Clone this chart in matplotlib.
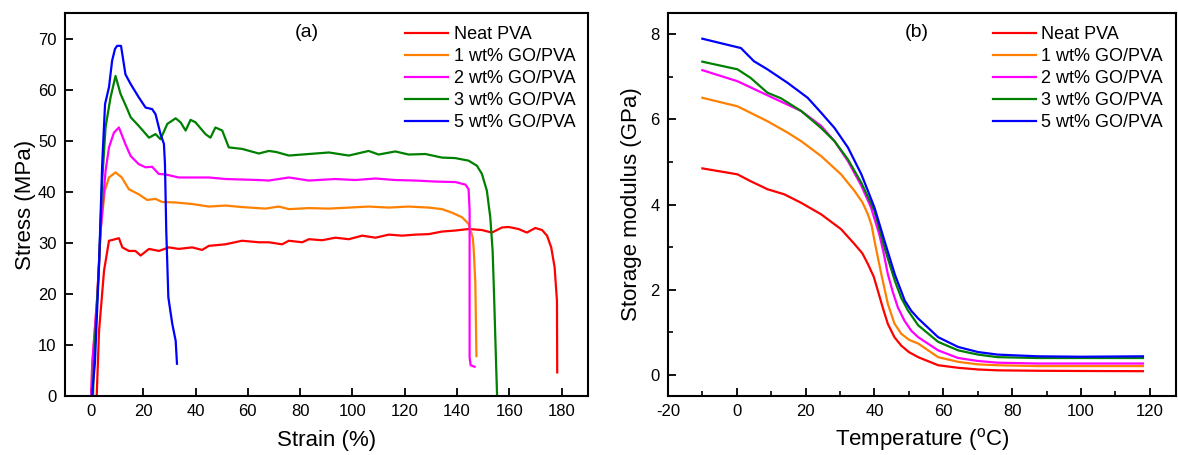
import matplotlib
matplotlib.use("Agg")
import matplotlib.pyplot as plt
from matplotlib.ticker import MultipleLocator

plt.rcParams['font.family'] = ['Liberation Sans', 'DejaVu Sans']
plt.rcParams['axes.unicode_minus'] = False

labels = ["Neat PVA", "1 wt% GO/PVA", "2 wt% GO/PVA", "3 wt% GO/PVA", "5 wt% GO/PVA"]
colors = ["#FF0000", "#FF8000", "#FF00FF", "#008000", "#0000FF"]

# ---- Panel (a): stress-strain ----
strain_neat = [2.2, 3.1, 5.0, 6.9, 8.5, 10.7, 12.0, 14.5, 17.0, 19.0, 22.2, 26.0, 29.8, 33.6, 38.7, 42.5,
               45.1, 51.4, 57.8, 64.2, 68.0, 73.1, 75.7, 80.8, 83.3, 88.4, 93.5, 98.6, 103.7, 108.8,
               113.9, 119.0, 124.1, 129.2, 134.2, 139.3, 144.4, 149.5, 153.3, 157.2, 159.7, 163.5,
               166.7, 169.9, 172.5, 174.4, 176.0, 177.3, 178.2, 178.3]
stress_neat = [0.0, 12.7, 24.5, 30.4, 30.6, 30.9, 29.1, 28.4, 28.4, 27.5, 28.8, 28.4, 29.1, 28.8, 29.1, 28.6,
               29.4, 29.7, 30.4, 30.1, 30.1, 29.7, 30.4, 30.1, 30.7, 30.5, 31.0, 30.7, 31.4, 31.0,
               31.6, 31.4, 31.6, 31.7, 32.2, 32.4, 32.7, 32.5, 32.0, 33.0, 33.1, 32.7,
               32.0, 32.9, 32.5, 31.4, 29.1, 25.2, 18.6, 4.6]

strain_1 = [0.1, 0.5, 2.4, 3.7, 5.3, 6.9, 9.4, 11.8, 14.5, 18.3, 21.5, 24.7, 27.2, 32.4, 38.7, 45.1,
            51.4, 57.8, 66.7, 71.8, 75.7, 83.3, 91.0, 98.6, 106.2, 113.9, 121.5, 129.2, 134.2, 138.1,
            141.9, 144.4, 146.0, 146.4, 147.0, 147.4]
stress_1 = [0.0, 6.3, 19.3, 32.4, 40.2, 42.8, 43.8, 42.8, 40.5, 39.5, 38.4, 38.6, 38.0, 37.9, 37.6, 37.1,
            37.3, 37.0, 36.7, 37.1, 36.6, 36.8, 36.7, 36.9, 37.1, 36.9, 37.1, 36.9, 36.6, 35.9,
            35.0, 33.7, 31.0, 28.4, 21.9, 7.8]

strain_2 = [0.1, 0.5, 2.4, 3.7, 5.6, 6.9, 8.8, 10.7, 13.2, 15.2, 18.3, 20.9, 23.4, 25.9, 28.5, 33.6,
            38.7, 45.1, 51.4, 57.8, 64.2, 68.0, 75.7, 83.3, 93.5, 101.1, 108.8, 116.4, 124.1, 131.7,
            139.4, 143.2, 144.4, 144.8, 144.8, 145.2, 146.7]
stress_2 = [0.0, 6.3, 19.3, 32.4, 44.1, 48.7, 51.6, 52.6, 49.3, 47.0, 45.4, 44.8, 44.9, 43.5, 43.4, 42.8,
            42.8, 42.8, 42.5, 42.4, 42.3, 42.2, 42.8, 42.2, 42.5, 42.3, 42.6, 42.3, 42.2, 42.0,
            41.9, 41.4, 40.5, 36.3, 7.5, 6.0, 5.7]

strain_3 = [0.8, 1.1, 3.1, 4.3, 5.6, 7.5, 9.4, 11.3, 13.9, 15.2, 18.3, 22.2, 24.7, 26.6, 29.2, 32.4,
            34.3, 36.2, 38.1, 40.0, 43.8, 45.7, 47.6, 50.2, 52.7, 57.8, 64.2, 68.0, 70.8, 75.7,
            83.3, 91.0, 98.6, 106.2, 110.0, 116.4, 121.5, 127.9, 134.2, 139.3, 144.4, 147.6, 149.5,
            151.4, 152.7, 153.6, 154.1, 155.0, 155.3]
stress_3 = [0.0, 6.3, 25.8, 42.2, 52.7, 58.5, 62.7, 59.2, 56.2, 54.6, 52.9, 50.6, 51.3, 50.3, 53.3, 54.4,
            53.6, 52.0, 54.1, 53.6, 51.3, 50.6, 52.6, 52.0, 48.7, 48.4, 47.5, 48.0, 47.8, 47.1,
            47.4, 47.7, 47.1, 48.0, 47.3, 47.9, 47.3, 47.4, 46.7, 46.6, 46.1, 45.1, 43.5,
            40.2, 35.0, 28.4, 20.6, 5.0, 0.0]

strain_5 = [0.4, 1.5, 3.1, 4.3, 5.4, 6.9, 8.1, 9.2, 10.0, 11.5, 13.2, 15.2, 18.3, 20.9, 23.4, 24.7,
            26.6, 27.9, 28.3, 28.8, 29.6, 31.1, 32.4, 32.9]
stress_5 = [0.0, 6.3, 25.8, 45.4, 57.2, 60.5, 65.7, 68.0, 68.6, 68.6, 63.0, 61.1, 58.5, 56.5, 56.2, 55.2,
            51.3, 49.4, 45.5, 32.4, 19.3, 14.1, 10.8, 6.3]

# ---- Panel (b): storage modulus vs temperature ----
temp_neat = [-10, 0.2, 4, 8.9, 13.8, 18.7, 24.5, 30.3, 34.2, 36.5, 38.1, 39.8, 41, 42.5, 43.9, 45.8, 47.8,
             50.0, 52.7, 58.5, 64.3, 70.1, 75.8, 87.4, 100, 118]
mod_neat = [4.85, 4.71, 4.55, 4.36, 4.24, 4.04, 3.77, 3.42, 3.07, 2.85, 2.6, 2.3, 1.97, 1.55, 1.19, 0.88, 0.68,
            0.53, 0.41, 0.22, 0.16, 0.12, 0.10, 0.09, 0.085, 0.08]

temp_1 = [-10, 0.2, 8.9, 14.8, 18.7, 24.5, 30.3, 34.2, 36.5, 38.1, 39.2, 40, 41, 42, 43.9, 45.8, 47.8,
          50.0, 52.7, 58.5, 64.3, 70.1, 75.8, 87.4, 100, 118]
mod_1 = [6.51, 6.31, 5.96, 5.69, 5.49, 5.14, 4.71, 4.32, 4.05, 3.77, 3.5, 3.15, 2.75, 2.36, 1.66, 1.2, 0.96,
         0.82, 0.73, 0.41, 0.30, 0.24, 0.22, 0.20, 0.20, 0.20]

temp_2 = [-10, 0.2, 8.9, 18.7, 24.5, 28.4, 32.3, 36.2, 39, 41.4, 42.7, 43.9, 45.3, 46.8, 48.7, 50.7, 52.7,
          58.5, 64.3, 70.1, 75.8, 87.4, 100, 118]
mod_2 = [7.16, 6.9, 6.57, 6.2, 5.85, 5.49, 5.02, 4.44, 3.93, 3.3, 2.85, 2.36, 1.95, 1.58, 1.27, 1.03, 0.88,
         0.57, 0.39, 0.32, 0.28, 0.26, 0.26, 0.26]

temp_3 = [-10, 0.2, 4, 8.9, 12.8, 18.7, 24.5, 28.4, 32.3, 36.2, 40, 42.9, 45.9, 47.8, 49.8, 52.7, 58.5,
          64.3, 70.1, 75.8, 87.4, 100, 118]
mod_3 = [7.36, 7.18, 6.98, 6.63, 6.5, 6.2, 5.8, 5.49, 5.06, 4.51, 3.85, 2.99, 2.21, 1.8, 1.5, 1.16, 0.77,
         0.57, 0.47, 0.41, 0.39, 0.39, 0.39]

temp_5 = [-10, 1.2, 5, 8.9, 14.8, 20.6, 24.5, 28.4, 32.3, 36.2, 40, 42.9, 45.9, 48.8, 50.7, 52.7, 58.5,
          64.3, 70.1, 75.8, 87.4, 100, 118]
mod_5 = [7.9, 7.68, 7.37, 7.18, 6.86, 6.51, 6.16, 5.8, 5.34, 4.71, 3.93, 3.15, 2.36, 1.74, 1.5, 1.32, 0.88,
         0.65, 0.53, 0.47, 0.43, 0.42, 0.43]

fig = plt.figure(figsize=(11.78, 4.55), dpi=100)
axa = fig.add_axes([0.055, 0.130, 0.444, 0.841])
axb = fig.add_axes([0.567, 0.130, 0.431, 0.841])

series_a = [(strain_neat, stress_neat), (strain_1, stress_1), (strain_2, stress_2),
            (strain_3, stress_3), (strain_5, stress_5)]
for (x, y), c, l in zip(series_a, colors, labels):
    axa.plot(x, y, color=c, lw=1.6, label=l)

series_b = [(temp_neat, mod_neat), (temp_1, mod_1), (temp_2, mod_2), (temp_3, mod_3), (temp_5, mod_5)]
for (x, y), c, l in zip(series_b, colors, labels):
    axb.plot(x, y, color=c, lw=1.6, label=l)

axa.set_xlim(-10, 190)
axa.set_ylim(0, 75)
axa.xaxis.set_major_locator(MultipleLocator(20))
axa.yaxis.set_major_locator(MultipleLocator(10))
axa.set_xlabel("Strain (%)", fontsize=16, labelpad=8)
axa.set_ylabel("Stress (MPa)", fontsize=16, labelpad=1)
axa.text(0.463, 0.95, "(a)", transform=axa.transAxes, ha='center', va='center', fontsize=14)

axb.set_xlim(-20, 127.5)
axb.set_ylim(-0.5, 8.5)
axb.xaxis.set_major_locator(MultipleLocator(20))
axb.xaxis.set_minor_locator(MultipleLocator(10))
axb.yaxis.set_major_locator(MultipleLocator(2))
axb.yaxis.set_minor_locator(MultipleLocator(1))
axb.set_xlabel("Temperature ($\\mathregular{^{o}}$C)", fontsize=16, labelpad=5)
axb.set_ylabel("Storage modulus (GPa)", fontsize=16, labelpad=6)
axb.text(0.49, 0.95, "(b)", transform=axb.transAxes, ha='center', va='center', fontsize=14)

for ax in (axa, axb):
    for s in ax.spines.values():
        s.set_linewidth(1.5)
    ax.tick_params(which='major', direction='in', length=6, width=1.3, labelsize=12, pad=6)
    ax.tick_params(which='minor', direction='in', length=3.5, width=1.2)
    ax.legend(loc='upper right', frameon=False, fontsize=13, handlelength=2.4,
              handletextpad=0.3, labelspacing=0.28, borderaxespad=0.3)

fig.savefig("out.png", dpi=100)
